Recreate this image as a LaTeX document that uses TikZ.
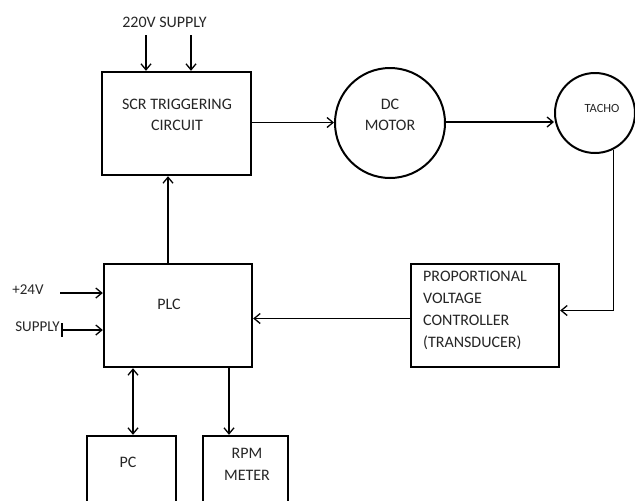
\documentclass[tikz,border=0pt]{standalone}
\usepackage{fontspec}
\setmainfont{Carlito}
\usetikzlibrary{arrows.meta}
\begin{document}
\begin{tikzpicture}[x=1pt,y=-1pt,
  box/.style={draw,line width=2.4pt,inner sep=0pt},
  circ/.style={draw,circle,line width=2pt,inner sep=0pt},
  txt/.style={font=\fontsize{16}{21}\selectfont,align=center,inner sep=0pt,text=black!85},
  conn/.style={line width=1.3pt,-{Straight Barb[length=6pt,width=10pt]}},
  dconn/.style={line width=1.3pt,{Straight Barb[length=6pt,width=10pt]}-{Straight Barb[length=6pt,width=10pt]}}]
\clip (0,0) rectangle (635,501);
\fill[white] (0,0) rectangle (635,501);
% blocks
\node[box,minimum width=149pt,minimum height=103pt] (scr) at (176.5,123.5) {};
\node[txt] (scrt) at (177,114.5) {SCR TRIGGERING\\CIRCUIT};
\node[circ,minimum size=110pt] (dc) at (390,123) {};
\node[txt] (dct) at (390,115) {DC\\MOTOR};
\node[circ,minimum size=80pt] (tacho) at (595,113) {};
\node[txt,font=\fontsize{12.5}{14}\selectfont] (tachot) at (602,108) {TACHO};
\node[box,minimum width=148pt,minimum height=103pt] (pvc) at (485,315.5) {};
\node[txt,align=left,anchor=north west,font=\fontsize{16}{22}\selectfont] (pvct) at (423,271) {PROPORTIONAL\\VOLTAGE\\CONTROLLER\\(TRANSDUCER)};
\node[box,minimum width=148pt,minimum height=103pt] (plc) at (178,315.5) {};
\node[txt] (plct) at (169,304) {PLC};
\node[box,minimum width=89pt,minimum height=100pt] (pc) at (131.5,486) {};
\node[txt] (pct) at (128,462) {PC};
\node[box,minimum width=85pt,minimum height=100pt] (rpm) at (245.5,486) {};
\node[txt,font=\fontsize{16}{22}\selectfont] (rpmt) at (247,464) {RPM\\METER};
% labels
\node[txt] (sup220) at (164.5,22) {220V SUPPLY};
\node[txt,font=\fontsize{15}{18}\selectfont] (p24) at (28,290) {+24V};
\node[txt,font=\fontsize{15}{18}\selectfont] (supply) at (37.5,327) {SUPPLY};
% coordinates
\coordinate (a1) at (146,35);
\coordinate (a2) at (191,35);
\coordinate (up) at (168,0);
\coordinate (s1) at (60,293);
\coordinate (s2) at (62,330);
\coordinate (pcx) at (133,0);
\coordinate (rpmx) at (229,0);
% connectors
\draw[conn] (a1) -- (a1 |- scr.north);
\draw[conn] (a2) -- (a2 |- scr.north);
\draw[conn] (up |- plc.north) -- (up |- scr.south);
\draw[conn] ([yshift=1pt]scr.east) -- ([yshift=1pt]scr.east -| dc.west);
\draw[conn] ([yshift=1pt]dc.east) -- ([yshift=1pt]dc.east -| tacho.west);
\draw[conn] (tacho.-63) |- ([yshift=5pt]pvc.east);
\draw[conn] ([yshift=-3pt]pvc.west) -- ([yshift=-3pt]plc.east);
\draw[conn] (s1) -- (s1 -| plc.west);
\draw[conn] (s2) -- (s2 -| plc.west);
\draw[line width=2.2pt] ([yshift=7pt]s2) -- ([yshift=-7pt]s2);
\draw[dconn] (pcx |- plc.south) -- (pcx |- pc.north);
\draw[conn] (rpmx |- plc.south) -- (rpmx |- rpm.north);
\end{tikzpicture}
\end{document}
